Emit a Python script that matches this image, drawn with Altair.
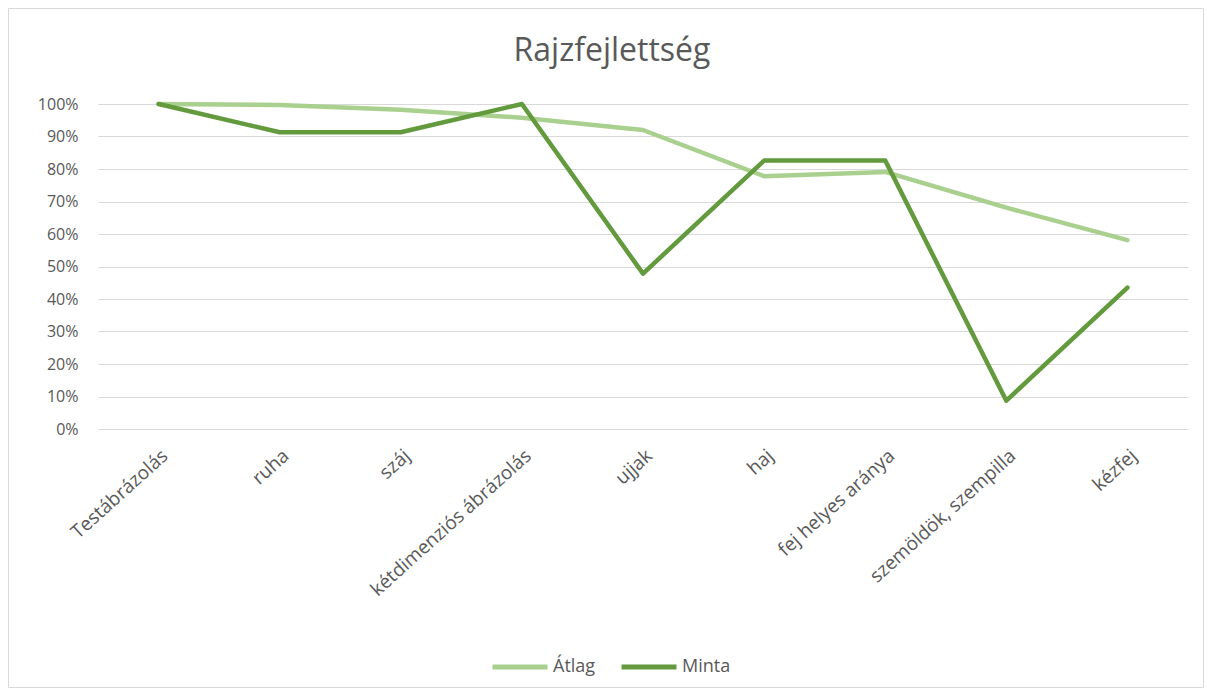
import altair as alt
import pandas as pd

categories = ["Testábrázolás", "ruha", "száj", "kétdimenziós ábrázolás", "ujjak",
              "haj", "fej helyes aránya", "szemöldök, szempilla", "kézfej"]
atlag = [1.00, 0.997, 0.982, 0.958, 0.92, 0.778, 0.791, 0.681, 0.581]
minta = [1.00, 0.913, 0.913, 1.00, 0.478, 0.826, 0.826, 0.087, 0.435]
series = ["Átlag", "Minta"]
colors = ["#a9d08e", "#629a3d"]

rows = []
for s, vals in zip(series, [atlag, minta]):
    for c, v in zip(categories, vals):
        rows.append({"kategoria": c, "ertek": v, "sorozat": s})
df = pd.DataFrame(rows)

W, H = 1090, 325
FONT = "Open Sans"

lines = alt.Chart(df).mark_line(strokeWidth=4.5, strokeCap="round", strokeJoin="round").encode(
    x=alt.X("kategoria:N", sort=categories,
            scale=alt.Scale(type="point", padding=0.5),
            axis=alt.Axis(title=None, labelAngle=-42, labelFontSize=19, labelColor="#595959",
                          labelFont=FONT, ticks=False, domain=False, grid=False,
                          labelPadding=17, labelLimit=300)),
    y=alt.Y("ertek:Q", scale=alt.Scale(domain=[0, 1], nice=False),
            axis=alt.Axis(title=None, format=".0%", values=[i / 10 for i in range(11)],
                          labelFontSize=16, labelColor="#595959", labelFont=FONT,
                          ticks=False, domain=False, gridColor="#d9d9d9", gridWidth=1.2,
                          labelPadding=20)),
    color=alt.Color("sorozat:N", sort=series,
                    scale=alt.Scale(domain=series, range=colors),
                    legend=alt.Legend(title=None, orient="none", direction="horizontal",
                                      legendX=392, legendY=533, symbolType="stroke",
                                      symbolSize=3025, symbolStrokeWidth=5,
                                      labelFontSize=18, labelColor="#595959", labelFont=FONT,
                                      columnPadding=15, labelOffset=3)),
    order=alt.Order("sorozat:N"),
)

title = alt.Chart(pd.DataFrame({"t": ["Rajzfejlettség"]})).mark_text(
    fontSize=32, font=FONT, color="#595959", align="center", baseline="middle"
).encode(text="t:N", x=alt.value(514), y=alt.value(-53))

border = alt.Chart(pd.DataFrame({"a": [0]})).mark_rect(
    fill=None, stroke="#d9d9d9", strokeWidth=1
).encode(x=alt.value(-89.5), x2=alt.value(W + 15.5), y=alt.value(-95.5), y2=alt.value(H + 258.5))

chart = alt.layer(border, lines, title).properties(
    width=W, height=H,
    autosize=alt.AutoSizeParams(type="none"),
    padding={"left": 90, "top": 96, "right": 16, "bottom": 260},
    background="white",
).configure_view(stroke=None)

chart.save("out.html", embed_options={"renderer": "svg", "actions": False})
